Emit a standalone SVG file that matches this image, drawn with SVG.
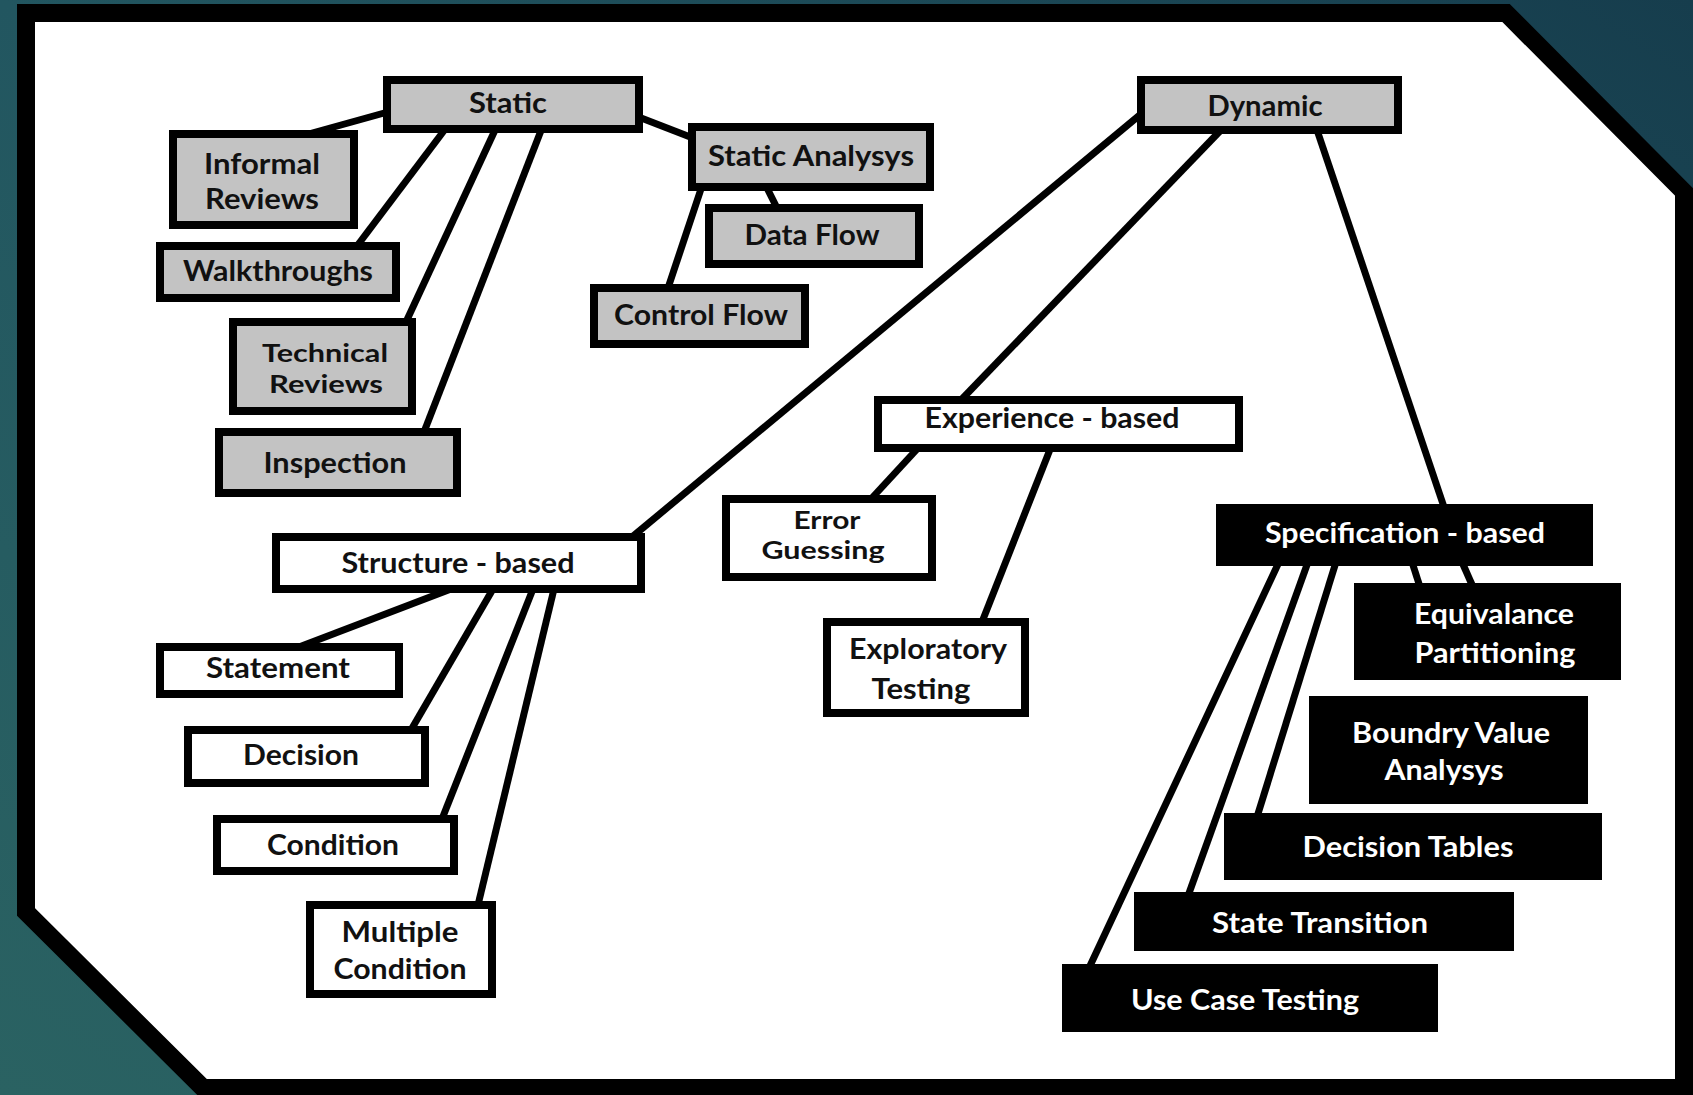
<svg xmlns="http://www.w3.org/2000/svg" width="1693" height="1095" viewBox="0 0 1693 1095">
<defs>
<linearGradient id="bg" x1="0" y1="1" x2="1" y2="0">
<stop offset="0" stop-color="#2a6262"/>
<stop offset="0.5" stop-color="#225660"/>
<stop offset="1" stop-color="#163d4d"/>
</linearGradient>
<style>
.g rect{fill:#c3c3c3;stroke:#000;stroke-width:8}
.w rect{fill:#fff;stroke:#000;stroke-width:8}
.b rect{fill:#000;stroke:#000;stroke-width:2}
text{font-family:Lato,"Open Sans","Liberation Sans",sans-serif;font-weight:700;font-size:28px;text-anchor:middle}
text.t{font-size:25px}
.g text,.w text{fill:#111}
.b text{fill:#fff}
#connectors line{stroke:#000;stroke-width:7;stroke-linecap:butt}
</style>
</defs>
<rect width="1693" height="1095" fill="url(#bg)"/>
<polygon points="26,13 1506,13 1684,192 1684,1088 203,1088 26,912" fill="#fff" stroke="#000" stroke-width="18" stroke-linejoin="miter"/>
<g id="connectors">
<line x1="395" y1="110" x2="305" y2="135"/>
<line x1="446" y1="128" x2="357" y2="246"/>
<line x1="496" y1="128" x2="406" y2="322"/>
<line x1="542" y1="128" x2="424" y2="432"/>
<line x1="636" y1="116" x2="698" y2="140"/>
<line x1="766" y1="186" x2="777" y2="208"/>
<line x1="702" y1="186" x2="668" y2="288"/>
<line x1="1141" y1="114" x2="632" y2="537"/>
<line x1="1221" y1="130" x2="961" y2="400"/>
<line x1="1317" y1="130" x2="1444" y2="507"/>
<line x1="919" y1="447" x2="871" y2="499"/>
<line x1="1051" y1="447" x2="982" y2="622"/>
<line x1="1412" y1="562" x2="1420" y2="587"/>
<line x1="1462" y1="562" x2="1473" y2="587"/>
<line x1="1336" y1="562" x2="1257" y2="817"/>
<line x1="1308" y1="562" x2="1188" y2="896"/>
<line x1="1279" y1="562" x2="1089" y2="968"/>
<line x1="451" y1="589" x2="299" y2="647"/>
<line x1="493" y1="589" x2="411" y2="730"/>
<line x1="533" y1="589" x2="442" y2="819"/>
<line x1="554" y1="589" x2="478" y2="905"/>
</g>
<g id="static" class="g"><rect x="387" y="80" width="252" height="49"/><text x="508" y="113" textLength="78" lengthAdjust="spacingAndGlyphs">Static</text></g>
<g id="informal-reviews" class="g"><rect x="173" y="134" width="181" height="91"/><text x="262" y="174" textLength="116" lengthAdjust="spacingAndGlyphs">Informal</text><text x="262" y="209" textLength="114" lengthAdjust="spacingAndGlyphs">Reviews</text></g>
<g id="walkthroughs" class="g"><rect x="160" y="246" width="236" height="52"/><text x="278" y="281" textLength="190" lengthAdjust="spacingAndGlyphs">Walkthroughs</text></g>
<g id="technical-reviews" class="g"><rect x="233" y="322" width="179" height="89"/><text class="t" x="325" y="362" textLength="126" lengthAdjust="spacingAndGlyphs">Technical</text><text class="t" x="326" y="393" textLength="114" lengthAdjust="spacingAndGlyphs">Reviews</text></g>
<g id="inspection" class="g"><rect x="219" y="432" width="238" height="61"/><text x="335" y="473" textLength="143" lengthAdjust="spacingAndGlyphs">Inspection</text></g>
<g id="static-analysys" class="g"><rect x="692" y="127" width="238" height="60"/><text x="811" y="166" textLength="206" lengthAdjust="spacingAndGlyphs">Static Analysys</text></g>
<g id="data-flow" class="g"><rect x="709" y="208" width="210" height="56"/><text x="812" y="245" textLength="135" lengthAdjust="spacingAndGlyphs">Data Flow</text></g>
<g id="control-flow" class="g"><rect x="594" y="288" width="211" height="56"/><text x="701" y="325" textLength="174" lengthAdjust="spacingAndGlyphs">Control Flow</text></g>
<g id="dynamic" class="g"><rect x="1141" y="80" width="257" height="50"/><text x="1265" y="116" textLength="115" lengthAdjust="spacingAndGlyphs">Dynamic</text></g>
<g id="experience-based" class="w"><rect x="878" y="400" width="361" height="48"/><text x="1052" y="428" textLength="255" lengthAdjust="spacingAndGlyphs">Experience - based</text></g>
<g id="error-guessing" class="w"><rect x="726" y="499" width="206" height="78"/><text class="t" x="827" y="529" textLength="67" lengthAdjust="spacingAndGlyphs">Error</text><text class="t" x="823" y="559" textLength="123" lengthAdjust="spacingAndGlyphs">Guessing</text></g>
<g id="exploratory-testing" class="w"><rect x="827" y="622" width="198" height="91"/><text x="928" y="659" textLength="158" lengthAdjust="spacingAndGlyphs">Exploratory</text><text x="921" y="699" textLength="99" lengthAdjust="spacingAndGlyphs">Testing</text></g>
<g id="structure-based" class="w"><rect x="276" y="537" width="365" height="52"/><text x="458" y="573" textLength="233" lengthAdjust="spacingAndGlyphs">Structure - based</text></g>
<g id="statement" class="w"><rect x="160" y="647" width="239" height="47"/><text x="278" y="678" textLength="144" lengthAdjust="spacingAndGlyphs">Statement</text></g>
<g id="decision" class="w"><rect x="188" y="730" width="237" height="53"/><text x="301" y="765" textLength="116" lengthAdjust="spacingAndGlyphs">Decision</text></g>
<g id="condition" class="w"><rect x="217" y="819" width="237" height="52"/><text x="333" y="855" textLength="132" lengthAdjust="spacingAndGlyphs">Condition</text></g>
<g id="multiple-condition" class="w"><rect x="310" y="905" width="182" height="89"/><text x="400" y="942" textLength="117" lengthAdjust="spacingAndGlyphs">Multiple</text><text x="400" y="979" textLength="133" lengthAdjust="spacingAndGlyphs">Condition</text></g>
<g id="specification-based" class="b"><rect x="1217" y="505" width="375" height="60"/><text x="1405" y="543" textLength="280" lengthAdjust="spacingAndGlyphs">Specification - based</text></g>
<g id="equivalance-partitioning" class="b"><rect x="1355" y="584" width="265" height="95"/><text x="1494" y="624" textLength="160" lengthAdjust="spacingAndGlyphs">Equivalance</text><text x="1495" y="663" textLength="161" lengthAdjust="spacingAndGlyphs">Partitioning</text></g>
<g id="boundry-value-analysys" class="b"><rect x="1310" y="697" width="277" height="106"/><text x="1451" y="743" textLength="198" lengthAdjust="spacingAndGlyphs">Boundry Value</text><text x="1444" y="780" textLength="119" lengthAdjust="spacingAndGlyphs">Analysys</text></g>
<g id="decision-tables" class="b"><rect x="1225" y="814" width="376" height="65"/><text x="1408" y="857" textLength="211" lengthAdjust="spacingAndGlyphs">Decision Tables</text></g>
<g id="state-transition" class="b"><rect x="1135" y="893" width="378" height="57"/><text x="1320" y="933" textLength="216" lengthAdjust="spacingAndGlyphs">State Transition</text></g>
<g id="use-case-testing" class="b"><rect x="1063" y="965" width="374" height="66"/><text x="1245" y="1010" textLength="228" lengthAdjust="spacingAndGlyphs">Use Case Testing</text></g>
</svg>
